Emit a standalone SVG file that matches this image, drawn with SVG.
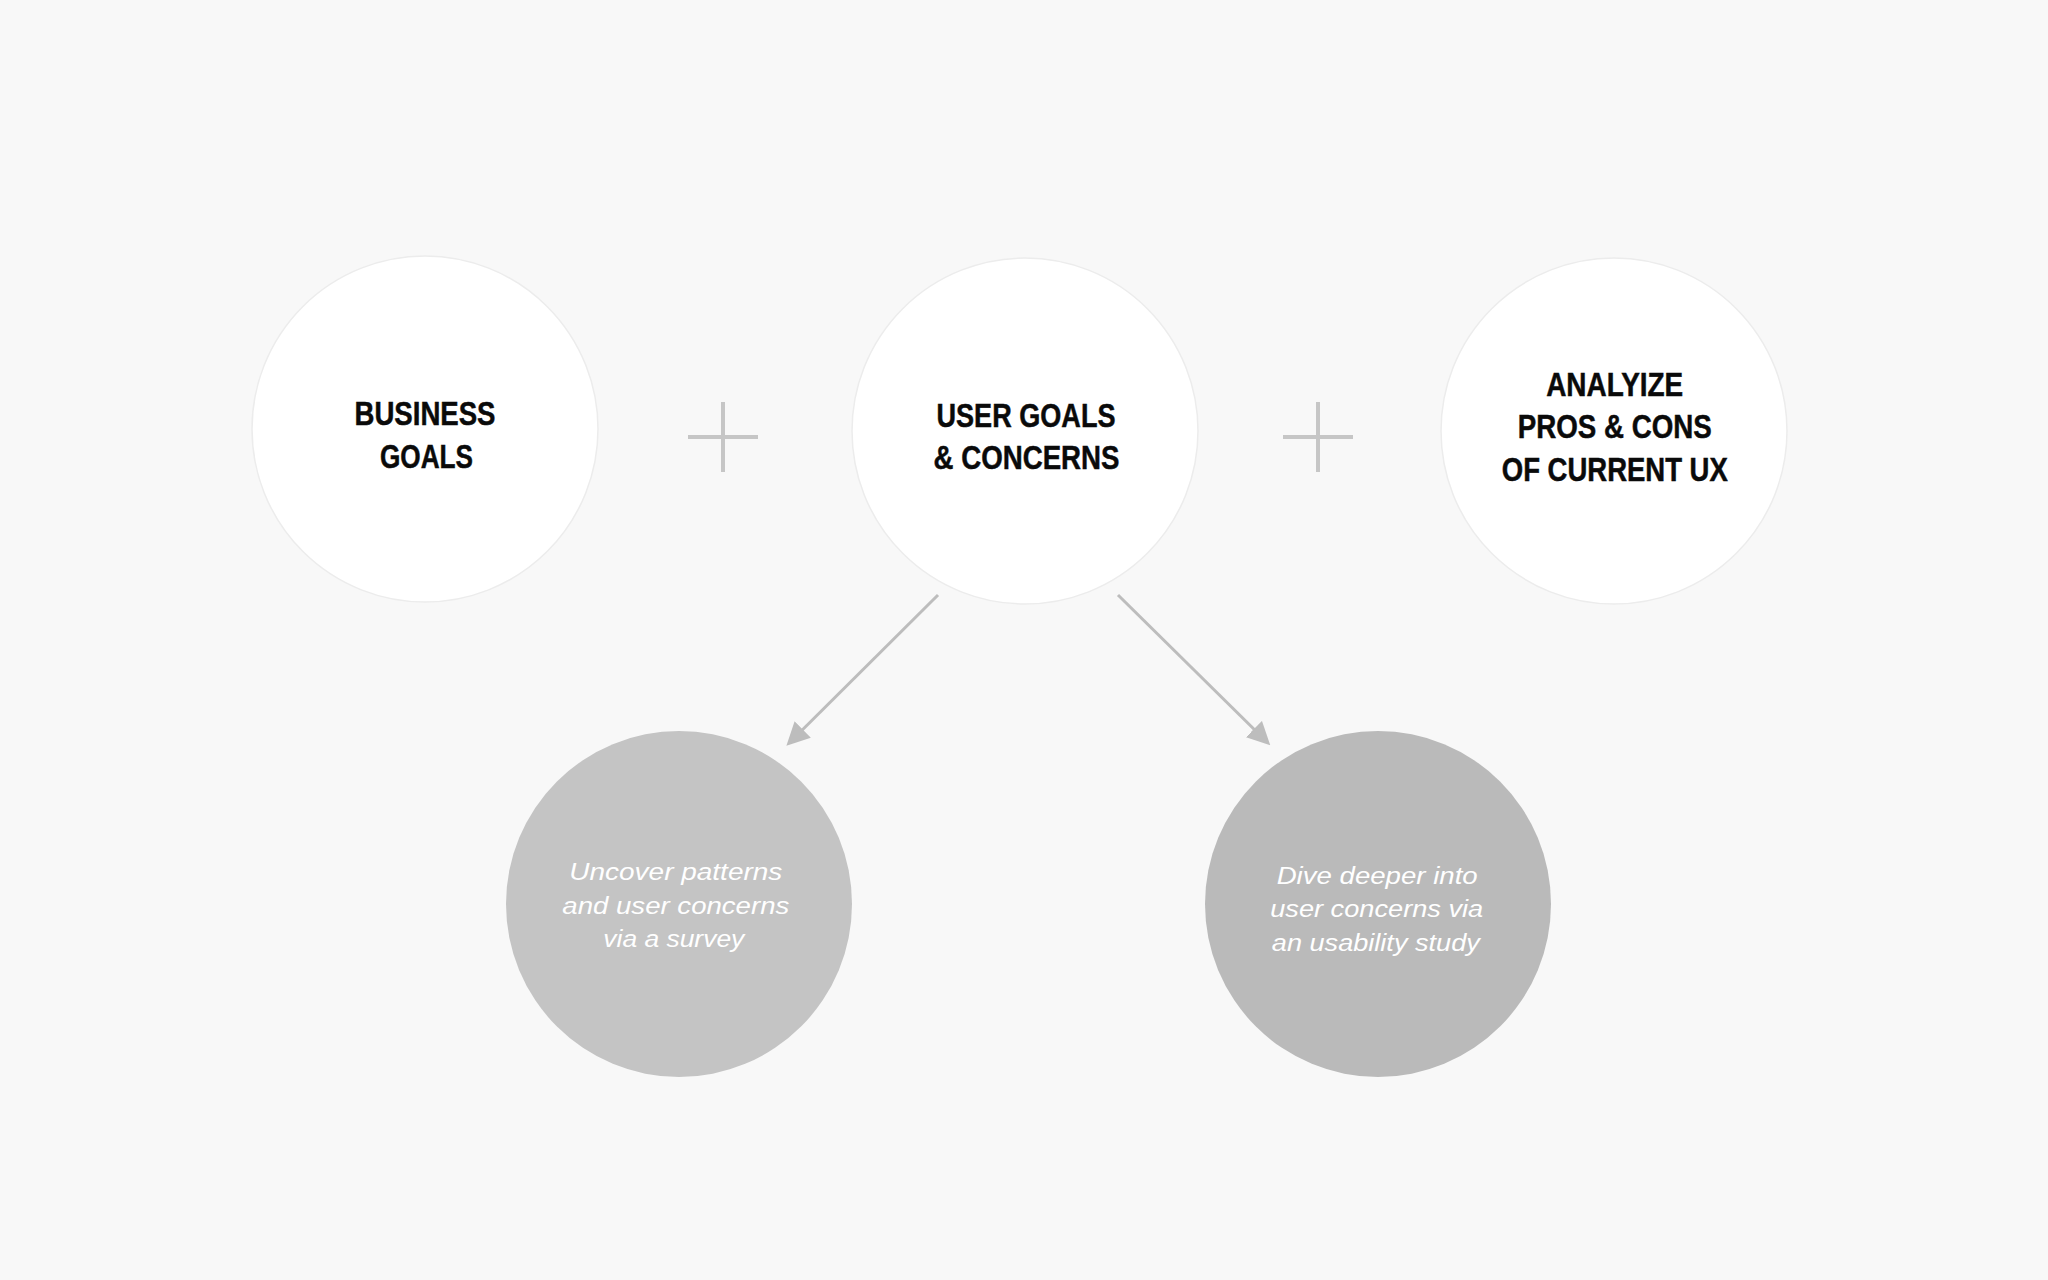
<svg xmlns="http://www.w3.org/2000/svg" width="2048" height="1280" viewBox="0 0 2048 1280">
  <defs>
    <style>
      .top { fill: #ffffff; stroke: #ececec; stroke-width: 1.5; }
      .title { font-family: "Liberation Sans Narrow", "Liberation Sans", Arial, sans-serif; font-weight: bold; font-size: 34px; fill: #0a0a0a; stroke: #0a0a0a; stroke-width: 0.5; text-anchor: middle; }
      .note { font-family: "Liberation Sans", Arial, sans-serif; font-style: italic; font-size: 24.5px; fill: #ffffff; text-anchor: middle; }
      .plus { stroke: #c6c6c6; stroke-width: 4; fill: none; }
      .conn { stroke: #bdbdbd; stroke-width: 3; fill: none; }
    </style>
    <marker id="arrow" viewBox="0 0 23 23" markerUnits="userSpaceOnUse" markerWidth="23" markerHeight="23" refX="1" refY="11.5" orient="auto">
      <path d="M0,0 L23,11.5 L0,23 Z" fill="#bdbdbd"/>
    </marker>
  </defs>

  <rect width="2048" height="1280" fill="#f8f8f8"/>

  <g id="node-business-goals">
    <circle class="top" cx="425" cy="429" r="173"/>
    <text class="title" x="425" y="425" textLength="141" lengthAdjust="spacingAndGlyphs">BUSINESS</text>
    <text class="title" x="426.5" y="467.5" textLength="93" lengthAdjust="spacingAndGlyphs">GOALS</text>
  </g>

  <g id="node-user-goals">
    <circle class="top" cx="1025" cy="431" r="173"/>
    <text class="title" x="1026" y="426.5" textLength="179" lengthAdjust="spacingAndGlyphs">USER GOALS</text>
    <text class="title" x="1026.5" y="469" textLength="186" lengthAdjust="spacingAndGlyphs">&amp; CONCERNS</text>
  </g>

  <g id="node-analyze">
    <circle class="top" cx="1614" cy="431" r="173"/>
    <text class="title" x="1614.7" y="396" textLength="137" lengthAdjust="spacingAndGlyphs">ANALYIZE</text>
    <text class="title" x="1614.8" y="438" textLength="194" lengthAdjust="spacingAndGlyphs">PROS &amp; CONS</text>
    <text class="title" x="1614.8" y="480.5" textLength="226" lengthAdjust="spacingAndGlyphs">OF CURRENT UX</text>
  </g>

  <g id="plus-signs">
    <path class="plus" d="M723,402 V472 M688,437 H758"/>
    <path class="plus" d="M1318,402 V472 M1283,437 H1353"/>
  </g>

  <g id="node-survey">
    <circle cx="679" cy="904" r="173" fill="#c4c4c4"/>
    <text class="note" x="675.8" y="880" textLength="213" lengthAdjust="spacingAndGlyphs">Uncover patterns</text>
    <text class="note" x="675.8" y="913.5" textLength="227" lengthAdjust="spacingAndGlyphs">and user concerns</text>
    <text class="note" x="673.8" y="947" textLength="141" lengthAdjust="spacingAndGlyphs">via a survey</text>
  </g>

  <g id="node-usability">
    <circle cx="1378" cy="904" r="173" fill="#bababa"/>
    <text class="note" x="1377.2" y="884" textLength="201" lengthAdjust="spacingAndGlyphs">Dive deeper into</text>
    <text class="note" x="1376.7" y="917.3" textLength="213" lengthAdjust="spacingAndGlyphs">user concerns via</text>
    <text class="note" x="1375.8" y="950.7" textLength="208" lengthAdjust="spacingAndGlyphs">an usability study</text>
  </g>

  <g id="connectors">
    <line class="conn" x1="938" y1="595" x2="802" y2="730.2" marker-end="url(#arrow)"/>
    <line class="conn" x1="1118" y1="595" x2="1254.6" y2="729.8" marker-end="url(#arrow)"/>
  </g>
</svg>
